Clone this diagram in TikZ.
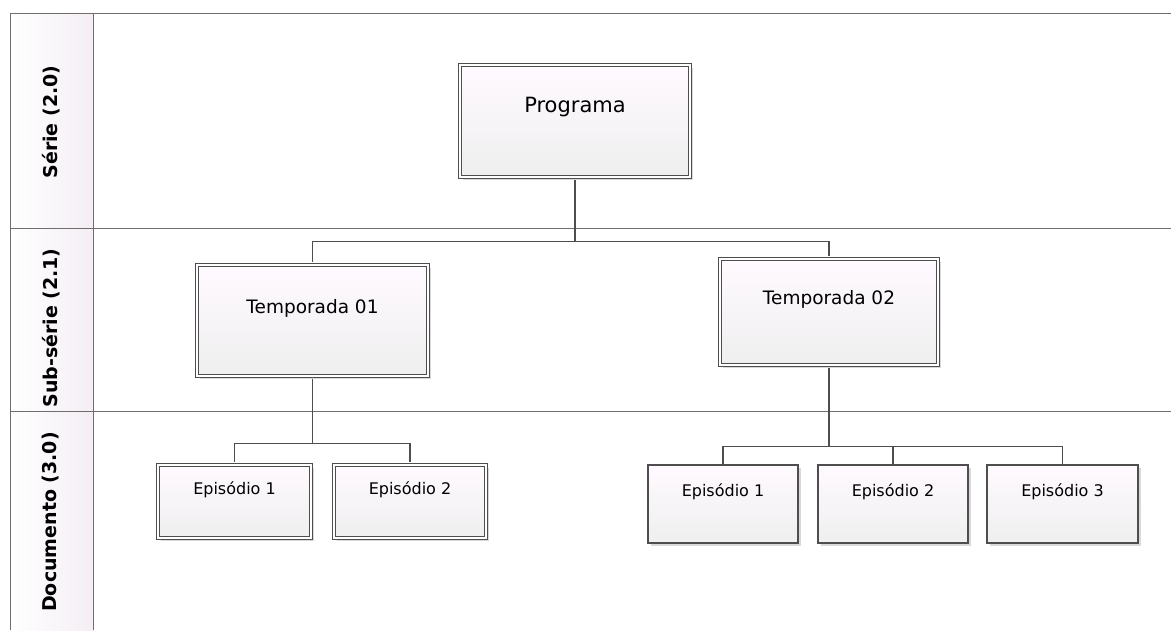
\documentclass[tikz,border=0pt]{standalone}
\usepackage{fontspec}
\setmainfont{DejaVu Sans}
\usetikzlibrary{shadows}

\definecolor{linegray}{HTML}{4E4E4E}
\definecolor{lanegray}{HTML}{6E6E6E}
\definecolor{boxtop}{HTML}{FFFAFF}
\definecolor{boxbot}{HTML}{EFEFEF}
\definecolor{lanefill}{HTML}{F4EEF4}

\tikzset{
  unitbox/.style={rectangle, draw=linegray, line width=1.2pt, inner sep=0pt,
    top color=boxtop, bottom color=boxbot,
    drop shadow={shadow xshift=2.5pt, shadow yshift=-2.5pt, fill=black, opacity=0.15},
    text height=14pt, text depth=29pt},
  dbl/.style={double=white, double distance=2pt},
  lanelabel/.style={rotate=90, font=\bfseries\fontsize{19}{23}\selectfont},
  lane/.style={draw=lanegray, line width=1pt},
  conn/.style={draw=linegray, line width=1.1pt}
}

\begin{document}
\begin{tikzpicture}[x=1pt, y=-1pt]

    % Fix the page to the size of the reference
    \useasboundingbox (0,0) rectangle (1171,630);

    % Swimlane frame with the label column
    \fill[left color=white, right color=lanefill] (10,13) rectangle (93,630);
    \draw[lane] (10,630) -- (10,13) -- (1171,13);
    \draw[lane] (93,13) -- (93,630);
    \draw[lane] (10,228) -- (1171,228);
    \draw[lane] (10,411) -- (1171,411);

    % Lane labels, rotated
    \node[lanelabel] (lserie) at (51,122) {Série (2.0)};
    \node[lanelabel] (lsub) at (51,328) {Sub-série (2.1)};
    \node[lanelabel] (ldoc) at (51,522) {Documento (3.0)};

    % Top level
    \node[unitbox, dbl, minimum width=230pt, minimum height=112pt, text depth=32pt,
          font=\fontsize{21}{25}\selectfont] (prog) at (575,121) {Programa};

    % Seasons
    \node[unitbox, dbl, minimum width=231pt, minimum height=111pt,
          font=\fontsize{18.5}{22}\selectfont] (temp1) at (312.5,320.5) {Temporada 01};
    \node[unitbox, dbl, minimum width=218pt, minimum height=106pt,
          font=\fontsize{18.5}{22}\selectfont] (temp2) at (829,312) {Temporada 02};

    % Episodes of season 01 (double border)
    \node[unitbox, dbl, minimum width=153pt, minimum height=73pt,
          font=\fontsize{16}{19}\selectfont] (ep11) at (234.5,501.5) {Episódio 1};
    \node[unitbox, dbl, minimum width=152pt, minimum height=73pt,
          font=\fontsize{16}{19}\selectfont] (ep12) at (410,501.5) {Episódio 2};

    % Episodes of season 02 (single border)
    \node[unitbox, minimum width=150pt, minimum height=78pt,
          font=\fontsize{16}{19}\selectfont] (ep21) at (723,504) {Episódio 1};
    \node[unitbox, minimum width=150pt, minimum height=78pt,
          font=\fontsize{16}{19}\selectfont] (ep22) at (893,504) {Episódio 2};
    \node[unitbox, minimum width=151pt, minimum height=78pt,
          font=\fontsize{16}{19}\selectfont] (ep23) at (1062.5,504) {Episódio 3};

    % Tree connectors
    \draw[conn, shorten <=2pt, shorten >=2pt] (prog.south) -- ++(0,64) coordinate (bus1) -| (temp1.north);
    \draw[conn, shorten >=2pt] (bus1) -| (temp2.north);

    \draw[conn, shorten <=2pt, shorten >=2pt] (temp1.south) -- ++(0,67) coordinate (bus2) -| (ep11.north);
    \draw[conn, shorten >=2pt] (bus2) -| (ep12.north);

    \draw[conn, shorten <=2pt] (temp2.south) -- ++(0,81) coordinate (bus3) -| (ep21.north);
    \draw[conn] (bus3) -| (ep22.north);
    \draw[conn] (bus3) -| (ep23.north);

\end{tikzpicture}
\end{document}
